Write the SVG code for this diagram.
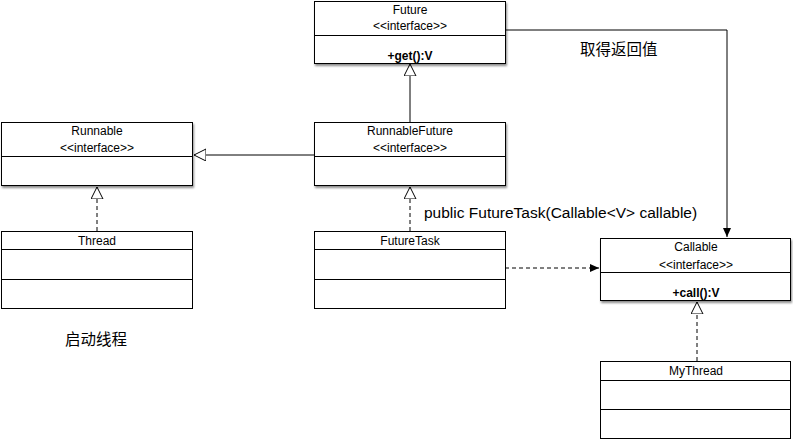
<svg xmlns="http://www.w3.org/2000/svg" width="793" height="440" viewBox="0 0 793 440">
<defs>
<filter id="sh" x="-5%" y="-5%" width="115%" height="125%">
<feDropShadow dx="1" dy="2" stdDeviation="1.2" flood-color="#000" flood-opacity="0.45"/>
</filter>
<marker id="tri" markerWidth="14" markerHeight="14" refX="12" refY="6" orient="auto" markerUnits="userSpaceOnUse">
<path d="M0,0 L12,6 L0,12 Z" fill="#fff" stroke="#000" stroke-width="1"/>
</marker>
<marker id="fill" markerWidth="12" markerHeight="10" refX="9" refY="4" orient="auto" markerUnits="userSpaceOnUse">
<path d="M0,0 L9,4 L0,8 Z" fill="#000"/>
</marker>
</defs>
<style>
.box{fill:#fff;stroke:#000;stroke-width:1}
.ln{stroke:#000;stroke-width:1;fill:none}
.t{font-family:"Liberation Sans",Arial,sans-serif;font-size:12px;fill:#000;text-anchor:middle}
.b{font-weight:bold}
.lbl{font-family:"Liberation Sans","Noto Sans CJK SC",sans-serif;font-size:15.5px;fill:#000}
.dash{stroke-dasharray:4,3}
</style>
<rect width="793" height="440" fill="#fff"/>
<g id="connectors">
<path class="ln" d="M410,122 L410,64" marker-end="url(#tri)"/>
<path class="ln" d="M314,155 L194,155" marker-end="url(#tri)"/>
<path class="ln dash" d="M97,231 L97,187" marker-end="url(#tri)"/>
<path class="ln dash" d="M410,231 L410,187" marker-end="url(#tri)"/>
<path class="ln dash" d="M697,361 L697,302" marker-end="url(#tri)"/>
<path class="ln dash" d="M505,268 L599,268" marker-end="url(#fill)"/>
<path class="ln" d="M505,30 L727,30 L727,237" marker-end="url(#fill)"/>
</g>
<g id="Future">
<rect class="box" x="314.5" y="1.5" width="191" height="62" filter="url(#sh)"/>
<line class="ln" x1="314.5" y1="35.5" x2="505.5" y2="35.5"/>
<text class="t" x="410" y="14">Future</text>
<text class="t" x="410" y="30">&lt;&lt;interface&gt;&gt;</text>
<text class="t b" x="410" y="60">+get():V</text>
</g>
<g id="Runnable">
<rect class="box" x="1.5" y="122.5" width="191" height="63" filter="url(#sh)"/>
<line class="ln" x1="1.5" y1="156.5" x2="192.5" y2="156.5"/>
<text class="t" x="97" y="135">Runnable</text>
<text class="t" x="97" y="152">&lt;&lt;interface&gt;&gt;</text>
</g>
<g id="RunnableFuture">
<rect class="box" x="314.5" y="122.5" width="191" height="63" filter="url(#sh)"/>
<line class="ln" x1="314.5" y1="156.5" x2="505.5" y2="156.5"/>
<text class="t" x="410" y="135">RunnableFuture</text>
<text class="t" x="410" y="152">&lt;&lt;interface&gt;&gt;</text>
</g>
<g id="Thread">
<rect class="box" x="1.5" y="231.5" width="191" height="77"/>
<line class="ln" x1="1.5" y1="249.5" x2="192.5" y2="249.5"/>
<line class="ln" x1="1.5" y1="279.5" x2="192.5" y2="279.5"/>
<text class="t" x="97" y="245">Thread</text>
</g>
<g id="FutureTask">
<rect class="box" x="314.5" y="231.5" width="191" height="77"/>
<line class="ln" x1="314.5" y1="249.5" x2="505.5" y2="249.5"/>
<line class="ln" x1="314.5" y1="279.5" x2="505.5" y2="279.5"/>
<text class="t" x="410" y="245">FutureTask</text>
</g>
<g id="Callable">
<rect class="box" x="600.5" y="238.5" width="190" height="62" filter="url(#sh)"/>
<line class="ln" x1="600.5" y1="272.5" x2="790.5" y2="272.5"/>
<text class="t" x="696" y="251">Callable</text>
<text class="t" x="696" y="269">&lt;&lt;interface&gt;&gt;</text>
<text class="t b" x="696" y="297">+call():V</text>
</g>
<g id="MyThread">
<rect class="box" x="600.5" y="361.5" width="190" height="77"/>
<line class="ln" x1="600.5" y1="380.5" x2="790.5" y2="380.5"/>
<line class="ln" x1="600.5" y1="409.5" x2="790.5" y2="409.5"/>
<text class="t" x="696" y="375">MyThread</text>
</g>
<g id="labels">
<text class="lbl" x="580" y="55">取得返回值</text>
<text class="lbl" x="424" y="218">public FutureTask(Callable&lt;V&gt; callable)</text>
<text class="lbl" x="65" y="345">启动线程</text>
</g>
</svg>
